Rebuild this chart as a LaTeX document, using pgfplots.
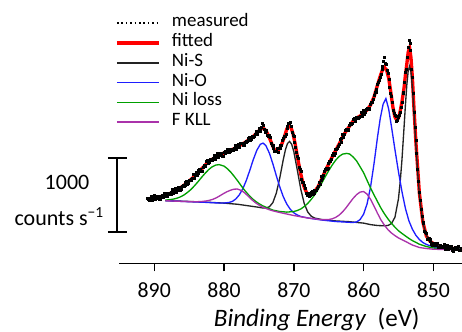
\documentclass[border=0pt]{standalone}
\usepackage{pgfplots}
\pgfplotsset{compat=1.18}
\usepackage{fontspec}
\setmainfont{Carlito}
\definecolor{cRed}{RGB}{255,0,0}
\definecolor{cBlue}{RGB}{30,30,255}
\definecolor{cGreen}{RGB}{0,160,0}
\definecolor{cPurple}{RGB}{170,50,170}
\definecolor{cBlack}{RGB}{35,35,35}
\begin{document}
\begin{tikzpicture}
\begin{axis}[
  scale only axis, width=257.25pt, height=197.5pt,
  x dir=reverse, xmin=845.89, xmax=895.05, ymin=-13.3, ymax=250,
  axis x line*=bottom, axis y line=none,
  xtick={850,860,870,880,890},
  tick align=outside, major tick length=6pt,
  x axis line style={line width=1.1pt, black},
  tick style={line width=1.1pt, black},
  xticklabel style={font=\fontsize{16.3}{18}\selectfont, yshift=-4.9pt},
  /pgf/number format/assume math mode=true,
  clip=false,
  legend cell align=left,
  legend image code/.code={\draw[#1] (0pt,0pt) -- (31.5pt,0pt);},
  legend style={at={(axis cs:895.62,236.7)}, anchor=north west, draw=none, fill=none,
    font=\fontsize{14.2}{16}\selectfont, inner sep=0pt, row sep=0pt, column sep=8.5pt,
    nodes={inner sep=0pt, text height=10pt, text depth=4.8pt}},
]
% legend entries
\addlegendimage{black, line width=1.4pt, dash pattern=on 1.2pt off 2.1pt}
\addlegendentry{measured}
\addlegendimage{cRed, line width=2.5pt}
\addlegendentry{fitted}
\addlegendimage{cBlack, line width=1pt}
\addlegendentry{Ni-S}
\addlegendimage{cBlue, line width=1pt}
\addlegendentry{Ni-O}
\addlegendimage{cGreen, line width=1pt}
\addlegendentry{Ni loss}
\addlegendimage{cPurple, line width=1pt}
\addlegendentry{F KLL}

% fitted envelope
\addplot[cRed, line width=2.5pt, forget plot] coordinates {
(846.0,1.0)(846.5,1.2)(847.0,1.5)(847.5,1.8)(848.0,2.3)(848.5,3.0)(849.0,3.8)(849.5,5.0)
(850.0,6.5)(850.5,9.0)(851.0,14)(851.5,28)(852.0,57)(852.5,108)(852.8,145)(853.0,172)
(853.2,192)(853.4,202)(853.6,198)(853.8,186)(854.0,175)(854.2,162)(854.5,148)(854.8,137)
(855.0,132)(855.25,130)(855.5,133)(855.8,143)(856.1,158)(856.4,172)(856.7,180)(857.0,182.5)
(857.3,180)(857.6,174)(858.0,165)(858.5,153)(859.0,145)(859.5,140)(860.0,137)(860.5,134)
(861.0,132)(861.5,129)(862.0,124)(862.5,119)(863.0,113)(863.5,106)(864.0,99.5)(864.5,93)
(865.0,86)(865.5,79)(866.0,71)(866.5,63.5)(867.0,58.5)(867.5,55.5)(867.8,55)(868.1,56.5)
(868.4,61)(868.7,67)(869.0,76)(869.4,90)(869.8,106)(870.1,116)(870.4,122.5)(870.7,124.5)
(871.0,121)(871.4,112)(871.8,104.5)(872.2,100)(872.5,99)(872.8,100.5)(873.2,107)(873.6,114)
(874.0,119.5)(874.4,122)(874.8,120.5)(875.3,117)(875.8,113.5)(876.3,111)(877.0,107.5)(877.5,105.5)
(878.0,103.5)(878.5,101.5)(879.0,100)(879.5,98.5)(880.0,97)(880.5,95.5)(881.0,94)(881.5,91.5)
(882.0,89.5)(882.5,86.5)(883.0,82.5)(883.5,79)(884.0,75.5)(884.5,72)(885.0,69)(885.5,66)
(886.0,63.5)(886.5,61)(887.0,59)(887.5,57.3)(888.0,55.7)(888.5,54.5)(889.0,53.5)(889.5,52.5)
(890.0,52)(890.5,51.5)(891.0,51)
};

% Ni-S
\addplot[cBlack, line width=1pt, forget plot] coordinates {
(846,1.4)(847,1.95)(848,2.8)(849,4.2)(849.5,5.4)(850,6.9)(850.5,9.5)(851,14.6)(851.5,27)
(852,55.1)(852.25,78)(852.5,105.1)(852.8,140.8)(853,162.2)(853.2,177.8)(853.4,183.8)(853.6,179.1)
(853.8,165)(854,144.9)(854.2,122.3)(854.5,89.8)(854.75,68)(855,51.1)(855.5,32.8)(856,26.4)
(856.5,24.6)(857,24.2)(858,24.5)(859,25.4)(860,26.9)(862,28.3)(864,29.1)(866,30.5)(867,31.9)
(867.5,33.8)(868,38)(868.5,46.4)(869,60.9)(869.5,80.1)(870,98.5)(870.3,105.7)(870.6,108.6)
(870.9,106.5)(871.2,100.2)(871.5,90.6)(872,72.4)(872.5,57)(873,47.4)(873.5,43.2)(874,42.1)
(874.5,42.1)(875,42.7)(876,43.7)(878,45.7)(880,46.9)(883,48)(886,48.8)(888.4,49.4)
};

% Ni-O
\addplot[cBlue, line width=1pt, forget plot] coordinates {
(846,0.4)(847,0.7)(848,1.1)(849,1.8)(850,3)(851,5.6)(851.5,7.5)(852,10.5)(852.5,14.7)(853,20.8)
(853.5,29.2)(854,41.6)(854.5,58.5)(855,78.4)(855.5,100.3)(856,123.4)(856.4,141)(856.8,151.5)
(857.2,145.7)(857.6,131.9)(858,112.9)(858.5,86.4)(859,62.9)(859.5,46)(860,35.8)(860.5,30.4)
(861,28.1)(861.5,27.5)(862,27.7)(864,28.5)(866,30)(867,31)(868,32.1)(869,33.5)(869.5,35)
(870,37.2)(870.5,40.7)(871,45.9)(871.5,53.2)(872,62.9)(872.5,74.2)(873,86.2)(873.5,96.9)
(874,104.4)(874.4,106.9)(874.8,105.7)(875.3,99.7)(875.8,90.5)(876.3,79.8)(876.8,69.7)(877.3,61.3)
(877.8,55.2)(878.3,51.1)(878.8,48.6)(879.3,47.5)(880,47)(881,47.1)(883,47.8)(886,48.6)(888.4,49.4)
};

% Ni loss
\addplot[cGreen, line width=1pt, forget plot] coordinates {
(846,0.3)(848,0.8)(850,2)(851,3.5)(852,5.8)(853,9.4)(853.5,11.6)(854,14.1)(854.5,16.6)(855,19.3)
(855.5,22.8)(856,26.7)(856.5,31.1)(857,36.1)(857.5,41.8)(858,48.4)(858.5,55.1)(859,62.1)
(859.5,69.7)(860,77.4)(860.5,83.3)(861,89.1)(861.5,93.1)(862,96)(862.4,96.6)(863,95.9)
(863.5,93.6)(864,89.8)(864.5,84.9)(865,79.3)(865.5,73.2)(866,66.8)(866.5,60.7)(867,55.3)
(867.5,50.6)(868,46.6)(868.5,43.5)(869,41)(869.5,39.5)(870,38.5)(871,37.9)(872,38.5)(873,39.9)
(874,42.8)(874.5,44.4)(875,46.4)(875.5,48.8)(876,51.7)(876.5,55.3)(877,59.3)(877.5,63.9)
(878,68.7)(878.5,73.3)(879,77.6)(879.5,81.2)(880,83.9)(880.7,85.4)(881.2,84.9)(881.7,83.2)
(882.2,80.4)(882.7,76.8)(883.2,72.8)(883.7,68.5)(884.2,64.5)(884.7,60.8)(885.2,57.8)(885.7,55.2)
(886.2,53.3)(886.7,51.9)(887.2,51)(887.7,50.4)(888.4,49.9)
};

% F KLL
\addplot[cPurple, line width=1pt, forget plot] coordinates {
(846,0.2)(847,0.3)(848,0.5)(849,0.6)(850,0.8)(851,1.5)(852,2.5)(853,5)(854,8.6)(855,12.1)
(855.5,14.4)(856,17)(856.5,20.3)(857,24.7)(857.5,30)(858,36.7)(858.5,43.9)(859,50.7)(859.5,55.9)
(860,58.5)(860.5,57.9)(861,55.4)(861.5,51.6)(862,47)(862.5,42.3)(863,38.2)(863.5,34.9)(864,32.6)
(864.5,31.2)(865,30.5)(866,30.3)(868,32)(870,34.5)(872,37.5)(873,39.2)(873.5,40.3)(874,41.6)
(874.5,43)(875,45)(875.5,47.3)(876,50.2)(876.5,53.6)(877,56.9)(877.5,59.5)(878.1,61)(878.6,60.8)
(879.1,59.7)(879.6,58.2)(880.1,56.3)(880.6,54.2)(881.1,52.2)(881.6,50.7)(882.1,49.7)(882.6,49)
(883.1,48.6)(884.1,48.2)(886,48.6)(888.4,49.3)
};

% measured
\addplot[only marks, mark=square*, mark size=0.75pt, black, forget plot] coordinates {
(846.00,2.2)(846.25,-0.4)(846.50,3.2)(846.75,0.55)(847.00,2.0)(847.25,-0.55)(847.50,3.4)(847.75,1.75)
(848.00,4.7)(848.25,0.85)(848.50,3.2)(848.75,2.4)(849.00,5.0)(849.25,2.9)(849.50,7.0)(849.75,4.95)
(850.00,7.0)(850.25,5.55)(850.50,10.6)(850.75,11.2)(851.00,16.4)(851.25,19.2)(851.50,28.2)(851.75,41)
(852.00,58.2)(852.25,80.5)(852.50,110)(852.75,138.2)(853.00,172.5)(853.25,199.8)(853.50,209.6)(853.75,192.7)
(854.00,177.4)(854.25,158.2)(854.50,148.2)(854.75,137.8)(855.00,133.2)(855.25,128.5)(855.50,135)(855.75,140.2)
(856.00,153.5)(856.25,162.8)(856.50,176.6)(856.75,186.2)(857.00,192.9)(857.25,183.7)(857.50,176.2)(857.75,169.5)
(858.00,166.2)(858.25,157.5)(858.50,155)(858.75,148.2)(859.00,145.5)(859.25,140.3)(859.50,141.6)(859.75,138.2)
(860.00,139.4)(860.25,133.7)(860.50,134.2)(860.75,132)(861.00,133.2)(861.25,129)(861.50,131)(861.75,125.7)
(862.00,124.5)(862.25,119.3)(862.50,120.6)(862.75,115.7)(863.00,115.4)(863.25,107.7)(863.50,106.2)(863.75,101.75)
(864.00,100.7)(864.25,94.75)(864.50,95)(864.75,88.7)(865.00,86.5)(865.25,80.3)(865.50,80.6)(865.75,74.7)
(866.00,73.4)(866.25,65.45)(866.50,63.7)(866.75,60)(867.00,59.7)(867.25,55.5)(867.50,57.5)(867.75,54.2)
(868.00,56.5)(868.25,56.3)(868.50,64.6)(868.75,68.2)(869.00,78.4)(869.25,83.2)(869.50,94.2)(869.75,103)
(870.00,113.7)(870.25,117.5)(870.50,127.5)(870.75,126.5)(871.00,121.5)(871.25,113.3)(871.50,111.6)(871.75,104.7)
(872.00,104.4)(872.25,98)(872.50,99.2)(872.75,99)(873.00,104.7)(873.25,106.3)(873.50,114.3)(873.75,115.2)
(874.00,120)(874.25,121.1)(874.50,126.4)(874.75,120.5)(875.00,121.7)(875.25,115.5)(875.50,115.7)(875.75,112.8)
(876.00,113.7)(876.25,109.7)(876.50,112)(876.75,108)(877.00,108)(877.25,104.3)(877.50,107.1)(877.75,104.2)
(878.00,105.9)(878.25,100.7)(878.50,101.7)(878.75,99.7)(879.00,101.2)(879.25,97.7)(879.50,100.5)(879.75,96.9)
(880.00,97.5)(880.25,94)(880.50,97.1)(880.75,94.4)(881.00,96.4)(881.25,90.9)(881.50,91.7)(881.75,89.5)
(882.00,90.7)(882.25,86.5)(882.50,88.5)(882.75,83.7)(883.00,83)(883.25,78.5)(883.50,80.6)(883.75,76.9)
(884.00,77.9)(884.25,71.9)(884.50,72.2)(884.75,69.5)(885.00,70.2)(885.25,66)(885.50,68)(885.75,63.9)
(886.00,64)(886.25,60)(886.50,62.6)(886.75,59.7)(887.00,61.4)(887.25,56.3)(887.50,57.5)(887.75,55.5)
(888.00,56.9)(888.25,53.6)(888.50,56.5)(888.75,53.2)(889.00,54)(889.25,50.8)(889.50,54.1)(889.75,51.9)
(890.00,54.4)(890.25,49.9)(890.50,51.7)(890.75,50.2)(891.00,52.2)
(846.125,-0.15)(846.375,3.35)(846.625,0.7)(846.875,2.4)(847.125,-0.8)(847.375,2.5)(847.625,3.7)(847.875,0.6)
(848.125,2.9)(848.375,5.4)(848.625,2.3)(848.875,3.4)(849.125,2.9)(849.375,6.9)(849.625,4.8)(849.875,7.1)
(850.125,4.7)(850.375,9.2)(850.625,12.05)(850.875,11.15)(851.125,17.9)(851.375,27.1)(851.625,34.1)(851.875,49.3)
(852.125,68.3)(852.375,97.2)(852.625,122.9)(852.875,156.5)(853.125,181.1)(853.375,206.3)(853.625,202.3)(853.875,180.4)
(854.125,167.9)(854.375,156.6)(854.625,142.5)(854.875,135.2)(855.125,129.8)(855.375,133.7)(855.625,136.4)(855.875,148)
(856.125,156.6)(856.375,170.8)(856.625,179.55)(856.875,186.9)(857.125,188.9)(857.375,180.85)(857.625,172.35)(857.875,167.55)
(858.125,160.8)(858.375,158.2)(858.625,150.4)(858.875,148)(859.125,141.35)(859.375,142.05)(859.625,141.05)(859.875,136.15)
(860.125,136.65)(860.375,137.35)(860.625,132.6)(860.875,132.3)(861.125,130.05)(861.375,131.95)(861.625,127.15)(861.875,126.25)
(862.125,120.35)(862.375,121.05)(862.625,119.3)(862.875,112.9)(863.125,111.65)(863.375,110.35)(863.625,103.5)(863.875,100.9)
(864.125,96.7)(864.375,96.8)(864.625,90.65)(864.875,88.75)(865.125,81.85)(865.375,81.55)(865.625,78.8)(865.875,71.4)
(866.125,69.5)(866.375,67.95)(866.625,61.35)(866.875,59.55)(867.125,56.55)(867.375,58.45)(867.625,54.65)(867.875,56.5)
(868.125,54.85)(868.375,61.55)(868.625,67.55)(868.875,70.65)(869.125,80.9)(869.375,92.1)(869.625,98.1)(869.875,108.05)
(870.125,114.55)(870.375,123.45)(870.625,126.3)(870.875,123.65)(871.125,115.85)(871.375,113.55)(871.625,109.3)(871.875,101.9)
(872.125,101.3)(872.375,102)(872.625,98.6)(872.875,101.55)(873.125,104.45)(873.375,112.25)(873.625,113.55)(873.875,118.75)
(874.125,118)(874.375,124.85)(874.625,123.1)(874.875,118.45)(875.125,118.7)(875.375,119)(875.625,113.75)(875.875,112.95)
(876.125,110.65)(876.375,112.8)(876.625,108.8)(876.875,109.15)(877.125,104.6)(877.375,106.8)(877.625,106.8)(877.875,102.4)
(878.125,103.4)(878.375,104.6)(878.625,100.2)(878.875,100.15)(879.125,98.4)(879.375,101.05)(879.625,97.5)(879.875,98.35)
(880.125,94.2)(880.375,96.65)(880.625,96.9)(880.875,92.75)(881.125,93.75)(881.375,94.7)(881.625,90.1)(881.875,89.8)
(882.125,87.55)(882.375,89.45)(882.625,84.9)(882.875,84.5)(883.125,79.2)(883.375,80.65)(883.625,79.9)(883.875,74.75)
(884.125,75)(884.375,75.45)(884.625,70.35)(884.875,69.55)(885.125,67.05)(885.375,68.95)(885.625,64.75)(885.875,65.1)
(886.125,60.45)(886.375,62.4)(886.625,62.3)(886.875,57.9)(887.125,58.95)(887.375,60.3)(887.625,56)(887.875,55.9)
(888.125,54.2)(888.375,57)(888.625,53.65)(888.875,54.75)(889.125,50.85)(889.375,53.55)(889.625,54.15)(889.875,50.5)
(890.125,52.25)(890.375,54.2)(890.625,50.45)(890.875,50.9)
};

% scale bar: 1000 counts/s = 74 units
\draw[line width=1.1pt, black] (axis cs:895.34,18) -- (axis cs:895.34,92);
\draw[line width=1.1pt, black] (axis cs:896.63,92) -- (axis cs:893.90,92);
\draw[line width=1.1pt, black] (axis cs:896.63,18) -- (axis cs:893.90,18);
\node[anchor=base, font=\fontsize{16.5}{18}\selectfont, inner sep=0pt] at (axis cs:902.5,61) {1000};
\node[anchor=base, font=\fontsize{16.5}{18}\selectfont, inner sep=0pt] at (axis cs:903.62,24.3) {counts s\textsuperscript{\char"2212 1}};
% axis title
\node[anchor=base, font=\fontsize{18.8}{20}\selectfont, inner sep=0pt] at (axis cs:866.71,-76.7) {\textit{Binding Energy}\hspace{0.45em}(eV)};
\coordinate (bbTL) at (axis cs:912.11,250);
\coordinate (bbBR) at (axis cs:845.89,-81);
\end{axis}
\pgfresetboundingbox
\useasboundingbox (bbTL) rectangle (bbBR);
\end{tikzpicture}
\end{document}
